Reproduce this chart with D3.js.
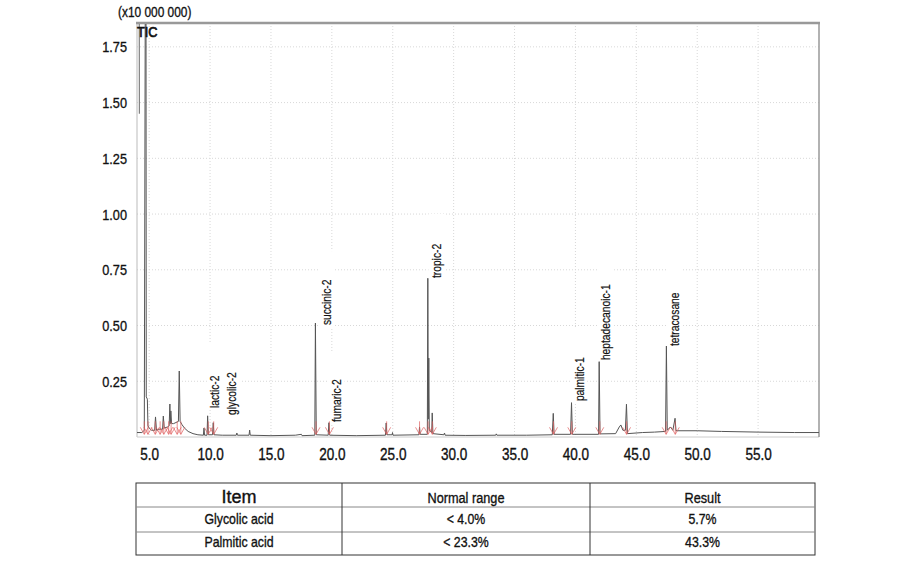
<!DOCTYPE html>
<html>
<head>
<meta charset="utf-8">
<script src="https://cdn.jsdelivr.net/npm/d3@7"></script>
<style>
  body { margin: 0; background: #fff; }
  svg { display: block; }
  text { font-family: "Liberation Sans", Arial, sans-serif; fill: #111; stroke: #111; stroke-width: 0.35px; }
</style>
</head>
<body>
<svg id="chart" width="919" height="563"></svg>
<script>
// retention time ticks (min) and intensity ticks (x10 000 000)
const xTicks = [5, 10, 15, 20, 25, 30, 35, 40, 45, 50, 55];
const yTicks = [0.25, 0.5, 0.75, 1.0, 1.25, 1.5, 1.75];

// TIC trace: [time, intensity]
const solventFront = [[4.18, 2.0], [4.19, 1.45]];
const tic = [
  [4.0, 0.02], [4.4, 0.02], [4.6, 0.03], [4.68, 2.0], [4.74, 2.0], [4.76, 0.18], [4.85, 0.17],
  [4.9, 0.05], [5.0, 0.04], [5.2, 0.03], [5.45, 0.03], [5.52, 0.09], [5.6, 0.03], [5.8, 0.035],
  [6.1, 0.035], [6.16, 0.094], [6.24, 0.04], [6.5, 0.045], [6.64, 0.05], [6.7, 0.148], [6.74, 0.06],
  [6.78, 0.117], [6.84, 0.06], [7.0, 0.06], [7.2, 0.065], [7.4, 0.07], [7.47, 0.296], [7.54, 0.07],
  [7.7, 0.055], [7.9, 0.04], [8.2, 0.025], [8.6, 0.015], [9.0, 0.01], [9.45, 0.008], [9.5, 0.04],
  [9.55, 0.008], [9.75, 0.008], [9.8, 0.095], [9.86, 0.01], [10.2, 0.01], [10.26, 0.064], [10.32, 0.01],
  [11.0, 0.008], [12.15, 0.008], [12.2, 0.018], [12.25, 0.008], [13.2, 0.008], [13.25, 0.031],
  [13.3, 0.008], [15.0, 0.006], [17.0, 0.008], [17.5, 0.012], [17.55, 0.006], [18.6, 0.008],
  [18.65, 0.511], [18.72, 0.01], [19.7, 0.008], [19.76, 0.064], [19.82, 0.008], [22.0, 0.006],
  [24.4, 0.008], [24.46, 0.063], [24.52, 0.01], [24.95, 0.01], [24.98, 0.02], [25.02, 0.008],
  [27.15, 0.01], [27.2, 0.045], [27.25, 0.012], [27.84, 0.012], [27.88, 0.712], [27.92, 0.08],
  [27.96, 0.354], [28.0, 0.03], [28.2, 0.02], [28.24, 0.108], [28.3, 0.015], [29.2, 0.01],
  [29.25, 0.018], [29.3, 0.008], [31.0, 0.007], [33.45, 0.008], [33.5, 0.014], [33.55, 0.008],
  [36.0, 0.008], [38.1, 0.01], [38.18, 0.106], [38.25, 0.012], [39.6, 0.012], [39.68, 0.154],
  [39.75, 0.012], [41.9, 0.012], [41.95, 0.338], [42.02, 0.014], [43.3, 0.015], [43.6, 0.045],
  [43.73, 0.054], [43.9, 0.03], [44.1, 0.03], [44.19, 0.147], [44.27, 0.015], [45.5, 0.02],
  [46.5, 0.022], [47.4, 0.025], [47.47, 0.408], [47.54, 0.03], [47.8, 0.045], [48.0, 0.03],
  [48.18, 0.084], [48.26, 0.028], [50.0, 0.028], [52.0, 0.025], [55.0, 0.022], [58.0, 0.02], [60.0, 0.02]
];

// integration marks (red arrows at peak bases)
const markTimes = [4.6, 4.9, 5.5, 5.9, 6.2, 6.6, 6.8, 7.3, 7.6, 9.85, 10.3, 18.7, 19.8,
  24.5, 27.2, 27.9, 28.25, 38.2, 39.7, 42.0, 44.2, 47.45, 48.2];

// peak labels: name, time of label, intensity at label start
const peakNames = ["lactic-2", "glycolic-2", "succinic-2", "fumaric-2", "tropic-2", "palmitic-1", "heptadecanoic-1", "tetracosane"];
const labelTimes = [10.39, 11.79, 19.57, 20.39, 28.59, 40.31, 42.52, 48.18];
const labelLevels = [0.13, 0.099, 0.502, 0.067, 0.713, 0.161, 0.345, 0.408];

// result table
const tableHeader = ["Item", "Normal range", "Result"];
const tableItems = ["Glycolic acid", "Palmitic acid"];
const normalRanges = ["< 4.0%", "< 23.3%"];
const results = ["5.7%", "43.3%"];

const svg = d3.select("#chart");
const plotLeft = 137, plotRight = 819, plotTop = 23, plotBottom = 437;

// squeeze text horizontally to mimic the condensed face of the original
function condense(sel, k) {
  sel.each(function() {
    const w = this.getComputedTextLength();
    d3.select(this).attr("textLength", w * k).attr("lengthAdjust", "spacingAndGlyphs");
  });
}

const x = d3.scaleLinear().domain([4, 60]).range([plotLeft, plotRight]);
const y = d3.scaleLinear().domain([0, 1.857]).range([plotBottom, plotTop]);

svg.append("clipPath").attr("id", "plotClip")
  .append("rect").attr("x", plotLeft).attr("y", plotTop + 1)
  .attr("width", plotRight - plotLeft).attr("height", plotBottom - plotTop);

// grid
const grid = svg.append("g").attr("stroke", "#d8d8d8").attr("stroke-dasharray", "1,2");
grid.selectAll(".vx").data(xTicks).join("line")
  .attr("x1", d => x(d)).attr("x2", d => x(d)).attr("y1", plotTop).attr("y2", plotBottom);
grid.selectAll(".hy").data(yTicks).join("line")
  .attr("x1", plotLeft).attr("x2", plotRight).attr("y1", d => y(d)).attr("y2", d => y(d));

// white boxes behind peak labels
const labelFont = 12.5;
svg.append("g").selectAll("rect").data(peakNames).join("rect")
  .attr("x", (d, i) => x(labelTimes[i]) - 8)
  .attr("width", 16)
  .attr("y", (d, i) => y(labelLevels[i]) - d.length * 5 - 24)
  .attr("height", (d, i) => d.length * 5 + 26)
  .attr("fill", "#fff");

// frame
svg.append("line").attr("x1", plotLeft).attr("x2", plotLeft).attr("y1", plotTop).attr("y2", plotBottom).attr("stroke", "#bbb");
svg.append("line").attr("x1", plotLeft).attr("x2", plotRight).attr("y1", plotBottom).attr("y2", plotBottom).attr("stroke", "#ccc");
svg.append("line").attr("x1", plotRight).attr("x2", plotRight).attr("y1", plotTop).attr("y2", plotBottom).attr("stroke", "#999").attr("stroke-width", 1.5);
svg.append("line").attr("x1", plotLeft - 1).attr("x2", plotRight + 1).attr("y1", plotTop).attr("y2", plotTop).attr("stroke", "#999").attr("stroke-width", 2.5);

// trace
const line = d3.line().x(d => x(d[0])).y(d => y(d[1]));
const plot = svg.append("g").attr("clip-path", "url(#plotClip)");
plot.append("path").datum(solventFront).attr("d", line)
  .attr("fill", "none").attr("stroke", "#666").attr("stroke-width", 1);
plot.append("path").datum(tic).attr("d", line)
  .attr("fill", "none").attr("stroke", "#555").attr("stroke-width", 1).attr("stroke-linejoin", "round");

// red integration arrows
plot.append("g").attr("stroke", "#e06060").attr("stroke-opacity", 0.7).attr("fill", "none")
  .selectAll("path").data(markTimes).join("path")
  .attr("d", d => {
    const px = x(d), py = y(0.012);
    return `M${px},${py - 13}L${px},${py}M${px - 4},${py - 7}L${px},${py}L${px + 4},${py - 7}`;
  });

// peak labels
svg.append("g").selectAll("text").data(peakNames).join("text")
  .attr("transform", (d, i) => `translate(${x(labelTimes[i])},${y(labelLevels[i])}) rotate(-90)`)
  .attr("dy", "0.35em")
  .style("font-size", labelFont + "px")
  .style("stroke-width", "0.2px")
  .text(d => d)
  .call(condense, 0.82);

// axes
const xAxis = svg.append("g").attr("transform", `translate(0,${plotBottom})`)
  .call(d3.axisBottom(x).tickValues(xTicks).tickFormat(d3.format(".1f")).tickSize(0).tickPadding(11));
xAxis.select(".domain").remove();
xAxis.attr("font-family", null);
xAxis.selectAll("text").style("font-size", "16.5px").attr("fill", "#111").call(condense, 0.82);

const yAxis = svg.append("g").attr("transform", `translate(${plotLeft},0)`)
  .call(d3.axisLeft(y).tickValues(yTicks).tickFormat(d3.format(".2f")).tickSize(0).tickPadding(10));
yAxis.select(".domain").remove();
yAxis.attr("font-family", null);
yAxis.selectAll("text").style("font-size", "15.5px").attr("fill", "#111").call(condense, 0.82);

svg.append("text").attr("x", 118).attr("y", 17).style("font-size", "14.5px").text("(x10 000 000)").call(condense, 0.82);
svg.append("text").attr("x", 137).attr("y", 37).style("font-size", "15px").style("stroke-width", "0.7px").text("TIC").call(condense, 0.85);

// table
const colEdges = [136, 342, 590, 815];
const rowEdges = [483, 507, 532, 555];
const rows = [tableHeader].concat(tableItems.map((d, i) => [d, normalRanges[i], results[i]]));
const table = svg.append("g");
table.append("rect").attr("x", colEdges[0]).attr("y", rowEdges[0])
  .attr("width", colEdges[3] - colEdges[0]).attr("height", rowEdges[3] - rowEdges[0])
  .attr("fill", "none").attr("stroke", "#333");
table.selectAll(".rowline").data(rowEdges.slice(1, 3)).join("line")
  .attr("x1", colEdges[0]).attr("x2", colEdges[3]).attr("y1", d => d).attr("y2", d => d)
  .attr("stroke", "#888");
table.selectAll(".colline").data(colEdges.slice(1, 3)).join("line")
  .attr("x1", d => d).attr("x2", d => d).attr("y1", rowEdges[0]).attr("y2", rowEdges[3])
  .attr("stroke", "#333");
rows.forEach((row, r) => {
  table.selectAll(".r" + r).data(row).join("text")
    .attr("class", "r" + r)
    .attr("x", (d, c) => (colEdges[c] + colEdges[c + 1]) / 2)
    .attr("y", rowEdges[r + 1] - (r === 0 ? 4 : 8))
    .attr("text-anchor", "middle")
    .style("font-size", (d, c) => r === 0 ? (c === 0 ? "18px" : "15.5px") : "15px")
    .text(d => d)
    .filter((d, c) => !(r === 0 && c === 0))
    .call(condense, 0.82);
});
</script>
</body>
</html>
